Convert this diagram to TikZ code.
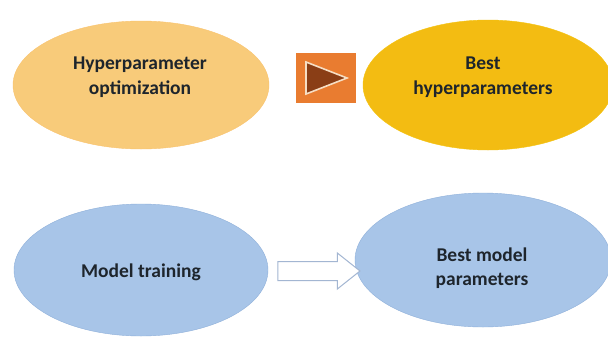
\documentclass[tikz,border=0pt]{standalone}
\usepackage{fontspec}
\setmainfont{Carlito}
\usetikzlibrary{shapes.geometric,shapes.arrows,calc}
\definecolor{lorange}{HTML}{F8CB7A}
\definecolor{gold}{HTML}{F3BC12}
\definecolor{lblue}{HTML}{A8C5E8}
\definecolor{bblue}{HTML}{8FB0DA}
\definecolor{boxorange}{HTML}{E97C30}
\definecolor{tribrown}{HTML}{8A3E16}
\definecolor{tricream}{HTML}{F6DEC4}
\definecolor{arrowgray}{HTML}{A3B6D2}
\definecolor{txtc}{HTML}{1E252C}
\tikzset{
  ell/.style={ellipse, inner sep=0pt},
  txt/.style={font=\fontsize{19.5}{24.5}\selectfont\bfseries, text=txtc, align=center},
}
\begin{document}
\begin{tikzpicture}[x=1pt,y=-1pt]
\useasboundingbox (0,0) rectangle (608,338);
\fill[white] (0,0) rectangle (608,338);
% top row
\node[ell, fill=lorange, draw=lorange!90!orange, minimum width=256, minimum height=128] (hpo) at (141,85) {};
\node[txt] (hpot) at (140,77) {Hyperparameter\\optimization};
\node[ell, fill=gold, draw=gold!90!yellow, minimum width=250, minimum height=130] (bh) at (488,85) {};
\node[txt] (bht) at (483,77) {Best\\hyperparameters};
\node[rectangle, fill=boxorange, minimum width=60, minimum height=50, inner sep=0pt] (box) at (326,78) {};
\draw[fill=tribrown, draw=tricream, line width=1.6pt, line join=miter]
  ($(box.center)+(-20,-16)$) -- ($(box.center)+(21,0)$) -- ($(box.center)+(-20,16)$) -- cycle;
% bottom row
\node[ell, fill=lblue, draw=bblue, minimum width=254, minimum height=132] (mt) at (141,270) {};
\node[txt] (mtt) at (141,272) {Model training};
\node[ell, fill=lblue, draw=bblue, minimum width=256, minimum height=134] (bmp) at (483,260) {};
\node[txt] (bmpt) at (482,268) {Best model\\parameters};
\node[single arrow, draw=arrowgray, fill=white, line width=1pt, minimum height=82, minimum width=0pt,
      text height=0pt, text depth=0pt, inner xsep=0pt, inner ysep=9pt,
      single arrow head extend=8.5pt, single arrow tip angle=77] (arr) at (313,271) {};
\end{tikzpicture}
\end{document}
